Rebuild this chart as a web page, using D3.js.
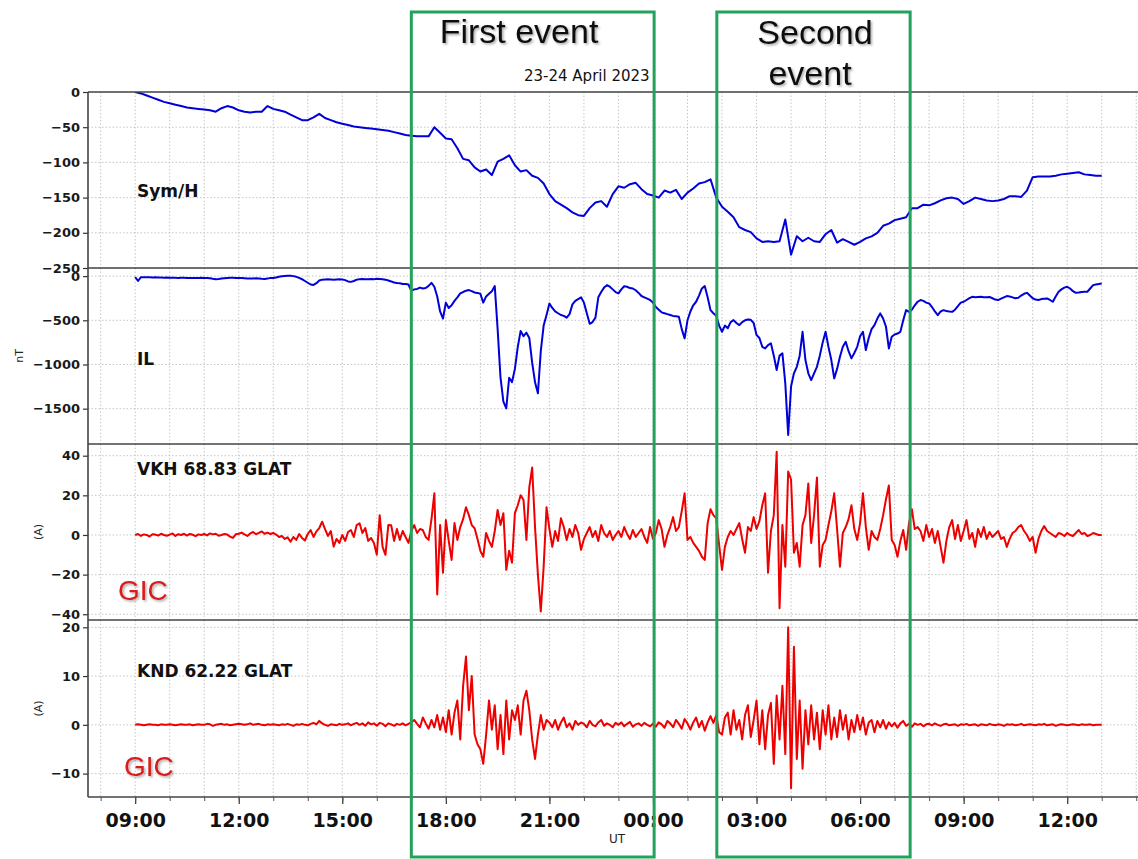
<!DOCTYPE html>
<html>
<head>
<meta charset="utf-8">
<script src="https://cdn.jsdelivr.net/npm/d3@7"></script>
<style>
  body { margin: 0; background: #fff; }
  svg { display: block; }
</style>
</head>
<body>
<div id="chart"></div>
<script>
// Sym/H, 10 min samples from 23 Apr 09:00 UT (nT)
var symh = [
  0, -2, -5, -8, -11, -14,
  -16, -18, -20, -22, -23, -24,
  -25, -26, -28, -23, -20, -22,
  -26, -28, -29, -28, -28, -20,
  -24, -26, -28, -32, -36, -40,
  -40, -36, -31, -37, -40, -43,
  -45, -47, -49, -50, -51, -52,
  -53, -54, -55, -57, -59, -61,
  -62, -63, -63, -63, -50, -58,
  -66, -67, -80, -95, -97, -107,
  -113, -110, -118, -99, -95, -90,
  -104, -113, -111, -119, -122, -130,
  -145, -155, -160, -165, -171, -175,
  -176, -165, -157, -155, -163, -145,
  -134, -136, -131, -129, -138, -145,
  -147, -150, -140, -143, -139, -152,
  -143, -137, -130, -128, -124, -150,
  -163, -170, -178, -192, -196, -199,
  -208, -213, -212, -213, -212, -181,
  -231, -205, -212, -207, -212, -213,
  -202, -196, -214, -209, -213, -217,
  -213, -208, -205, -200, -190, -187,
  -182, -180, -178, -165, -165, -160,
  -161, -158, -154, -151, -150, -152,
  -159, -155, -150, -152, -154, -155,
  -154, -152, -148, -148, -149, -140,
  -121, -120, -120, -120, -119, -117,
  -116, -115, -114, -117, -118, -119,
  -119
];
var symhStep = 10; // minutes

// IL index, 5 min samples (nT)
var il = [
  -10, -55, -12, -12, -14, -13, -15, -14, -16, -15, -17, -16,
  -18, -17, -19, -20, -18, -19, -21, -20, -22, -20, -21, -19,
  -20, -22, -25, -30, -34, -32, -28, -24, -20, -18, -19, -21,
  -20, -22, -24, -26, -28, -26, -25, -27, -30, -32, -28, -20,
  -22, -15, -8, -2, 2, 5, 4, 0, -8, -20, -35, -55,
  -75, -95, -100, -80, -50, -40, -38, -36, -38, -40, -37, -36,
  -38, -45, -60, -65, -55, -40, -34, -33, -35, -34, -33, -35,
  -30, -32, -35, -40, -50, -60, -72, -78, -80, -88, -90, -95,
  -166, -150, -145, -130, -140, -135, -110, -76, -120, -230, -400, -480,
  -300, -360, -330, -280, -240, -196, -180, -165, -158, -170, -185, -190,
  -200, -300, -230, -200, -170, -113, -600, -1150, -1420, -1497, -1150, -1200,
  -1050, -800, -620, -680, -640, -700, -980, -1200, -1327, -850, -560, -440,
  -309, -360, -400, -420, -440, -450, -470, -430, -320, -280, -260, -240,
  -300, -420, -540, -520, -470, -240, -180, -130, -102, -120, -150, -180,
  -196, -150, -115, -120, -135, -140, -160, -190, -225, -240, -255, -270,
  -300, -350, -380, -410, -420, -430, -440, -450, -455, -460, -600, -705,
  -500, -400, -330, -290, -220, -140, -113, -240, -385, -420, -450, -560,
  -630, -560, -590, -520, -498, -530, -554, -520, -500, -490, -495, -530,
  -667, -700, -800, -818, -780, -761, -900, -1063, -900, -874, -1214, -1798,
  -1250, -1100, -1026, -900, -630, -950, -1100, -1176, -1100, -1026, -900, -750,
  -630, -800, -950, -1157, -1050, -912, -800, -743, -850, -931, -870, -800,
  -680, -630, -837, -700, -600, -554, -480, -422, -480, -573, -818, -686,
  -660, -650, -630, -500, -385, -404, -380, -330, -290, -271, -280, -300,
  -309, -350, -400, -441, -400, -385, -395, -400, -404, -380, -340, -300,
  -290, -270, -250, -234, -240, -236, -234, -240, -238, -235, -250, -265,
  -271, -255, -240, -226, -230, -240, -250, -245, -220, -200, -189, -220,
  -250, -265, -271, -260, -255, -252, -270, -290, -230, -177, -150, -130,
  -121, -140, -170, -189, -185, -180, -178, -177, -140, -102, -95, -88,
  -83
];
var ilStep = 5;

// GIC at VKH (68.83 GLAT), 5 min samples (A)
var vkh = [
  0, 0.5, -0.5, 0.3, 0, -0.8, 0.4, 0.2, -0.3, 0.6, 0, -0.4,
  0.2, 0.8, -0.5, 0.4, 0, 0.6, -0.3, 0.5, 0.1, -0.6, 0.3, 0,
  0.5, -0.2, 0.8, 0.3, 0.6, -0.4, 0, 0.5, 0.2, -0.8, -1.5, 0.4,
  0.6, 1.2, 0.3, -0.5, 0.8, 1.5, 0.4, 1.0, 1.8, 0.6, 1.2, 0.5,
  1.0, 0.2, -1.0, -0.5, -2.0, -1.2, -3.4, -1.0, -2.5, 0.5, -1.5, -2.8,
  0.5, 2.5, -1.0, 1.8, 3.5, 6.7, 3.0, -0.5, 2.0, -5.9, -2.0, -4.0,
  0.0, -3.0, 1.5, 2.5, -1.0, 5.0, 5.9, 1.0, 3.5, -3.0, -1.5, -4.0,
  -10, 10, -6, -10, 5, 4.9, -3, 3, -2.5, 2, -1, -4,
  2, 5, 1, 3, 2.5, -1, -2.5, 8, 21, -30, 5, -19,
  7.5, -3, -12.6, 6, -2.5, 4, 8, 14, 10, 5, 3.4, -2,
  -8, -11, 1, -3, -6, 2, 12.6, 5, 11, -17.6, -8, -14,
  11, 15, 20, 17.6, -2.5, 24, 34, 4, -20, -38.6, -16, 14,
  3, -6, 2, -3, 8.4, 4, -2.5, 3, -1, 5, 1, -7.5,
  -2, 1, 4, -1, 2, -3, 5, 1, -1, 2, -2.5, 0,
  2, -1, 4, 0.5, -2, 2.5, -1, 1, 3, -1, -4, 4,
  -2, 1, 7.5, 3, -6, 0, 4, 9, 2, 4, 12, 21,
  -2.5, -1, -4, -6, -8, -11, -12.6, 6, 13, 10, 8.4, -5,
  -17.6, -6, -1, 2, 0, 3, 6, -2, -9, 4, 2, 9,
  3, 7, 15, 21, -19, 2, 10, 42, -37, 5, -16, 32,
  28, -9, -4, -16, 5, 10, 26, -4, 10, 29, -16, -5,
  -2.5, 5, 12, 21, 3, -16, 1, 4, 8, 15, 3, -2.5,
  6, 21, 4, -7.5, 2, -1, -2.5, 3, 10, 18, 25, -2.5,
  -5, -11, -3, 2.5, -7.5, 6, 13, 3, 4, 2, -3, 5,
  -1, 3, -4, 2, -6, -14, -3, 4, 7.5, -2, 5, -3,
  2, 7.5, -2, 1, -6, 3, -1, 4, -2, 1.5, -1, 0.5,
  2, -2, -1, -6, -2, 1, 2, 4, 5, 2, 0, -3,
  -1, -9, -2, 2, 4.5, 2, 1, 0, -1, 1, 0.5, -0.5,
  1, 0, -0.5, 1, 2.5, 0.5, 1, -0.5, 0, 1, 0.5, 0,
  0
];
var vkhStep = 5;

// GIC at KND (62.22 GLAT), 5 min samples (A)
var knd = [
  0, 0.1, 0, -0.1, 0, 0.1, 0, 0, -0.1, 0.1, 0, 0,
  0.1, 0, -0.1, 0, 0.1, 0, 0, 0.1, -0.1, 0, 0.1, 0,
  0, 0.2, 0.1, -0.2, 0, 0.1, 0.2, 0, 0.1, -0.1, 0, 0.1,
  0.2, 0.1, 0, 0.1, 0.3, 0, 0.1, 0.2, 0, -0.1, 0.1, 0,
  0.1, 0, -0.1, 0.1, 0, 0.2, 0, -0.2, 0.1, 0, 0.2, 0,
  -0.1, 0.2, 0.4, 0.1, 0.8, 0.3, 0, -0.2, 0.1, 0, -0.1, 0.2,
  0, 0.1, 0.3, -0.1, 0.2, 0.4, 0, 0.3, -0.2, 0.5, 0.1, 0.3,
  -0.2, 0.4, 0.2, -0.3, 0.3, 0.1, -0.2, 0.2, 0, 0.3, -0.1, 0.2,
  0.5, 1.0, 0.2, -0.5, 1.5, 0.3, -0.8, 1.0, -0.5, 2.0, -1.0, 1.5,
  -1.5, 3, -2, 2.5, 5, -3, 8, 14, 3, 10, -2, -4,
  -5, -8, -2, 5, -1, 4, -5, 2, -6, 5, -3, 3,
  1, 4, -2, 5, 7, 3, -3, -7, -2, 2, -1, 1,
  0.5, -0.5, 1, -1, 0.5, 1.5, -0.5, 0.3, -1, 0.8, 0, 0.5,
  0.2, -0.5, 0.8, 0, -0.3, 0.5, 1.0, -0.2, 0.3, 0, -0.5, 0.4,
  0, 0.5, -0.3, 0.2, 0.6, -0.4, 0.1, 0.3, -0.2, 0.4, 0, -0.3,
  0.2, -0.4, 0.5, 0.1, -0.6, 0.8, 0.3, -0.5, 1.0, 0.2, -0.8, 1.2,
  0.3, -1.0, 0.5, 1.5, -0.5, 0.8, -1.2, 0.5, 1.8, 0.4, 2.0, -1.5,
  -2, 1.5, 2.5, -2, 3, -1, 1, -3, 2, 4, -2.5, 1,
  5, -4, 3, -5, 2, 4.5, -8, 6, -3, 8, -6, 20,
  -13, 16, -7, 5, -9, 3, -4, 4, -3, 2.5, -5, 3,
  -2, 4, -3, 1.5, -2.5, 3, -1, 2, -3, 1, -1.5, 2,
  -1, 1.5, -2, 0.5, 1, -1.5, 0.8, -0.5, 1, -0.8, 0.5, -0.3,
  0.4, -0.6, 0.3, 0.8, -0.2, 0.2, -0.4, 0.3, 0, 0.2, -0.3, 0.1,
  0.2, -0.1, 0.3, 0, -0.2, 0.1, 0.2, -0.1, 0, 0.1, -0.2, 0.1,
  0, 0.2, -0.1, 0, 0.1, -0.2, 0.1, 0, -0.1, 0.2, 0, -0.1,
  0.1, 0, -0.2, 0.1, 0, 0.1, -0.1, 0, 0.2, -0.1, 0, 0.1,
  0, -0.1, 0.1, 0, 0.2, -0.1, 0, 0.1, -0.2, 0, 0.1, 0,
  -0.1, 0, 0.1, 0, -0.1, 0.1, 0, 0, 0.1, -0.1, 0, 0,
  0
];
var kndStep = 5;

var symhTicks = [0, -50, -100, -150, -200, -250];
var ilTicks = [0, -500, -1000, -1500];
var vkhTicks = [40, 20, 0, -20, -40];
var kndTicks = [20, 10, 0, -10];

var startTime = new Date(Date.UTC(2023, 3, 23, 9, 0));
var xStart = new Date(Date.UTC(2023, 3, 23, 7, 38));
var xEnd = new Date(Date.UTC(2023, 3, 24, 14, 10));
var firstEvent = [new Date(Date.UTC(2023, 3, 23, 17, 0)), new Date(Date.UTC(2023, 3, 24, 0, 2))];
var secondEvent = [new Date(Date.UTC(2023, 3, 24, 1, 51)), new Date(Date.UTC(2023, 3, 24, 7, 27))];

var W = 1138, H = 859;
var left = 88, right = 1142;

var svg = d3.select("#chart").append("svg").attr("width", W).attr("height", H);

var defs = svg.append("defs");
defs.append("filter").attr("id", "shadow").attr("x", "-10%").attr("y", "-10%").attr("width", "130%").attr("height", "140%")
  .append("feDropShadow").attr("dx", 1.5).attr("dy", 1.5).attr("stdDeviation", 1.2)
  .attr("flood-color", "#000").attr("flood-opacity", 0.35);
defs.append("clipPath").attr("id", "clip").append("rect")
  .attr("x", left).attr("y", 92).attr("width", right - left).attr("height", 705);

var x = d3.scaleUtc().domain([xStart, xEnd]).range([left, right]);

var panels = [
  {data: symh, step: symhStep, domain: [-250, 0], top: 92, bottom: 268, ticks: symhTicks, color: "#0000d8", label: "Sym/H", labelY: 197},
  {data: il, step: ilStep, domain: [-1900, 92], top: 268, bottom: 444, ticks: ilTicks, color: "#0000d8", label: "IL", labelY: 365, unit: "nT", unitX: 19},
  {data: vkh, step: vkhStep, domain: [-42.9, 45.9], top: 444, bottom: 620, ticks: vkhTicks, color: "#ee0000", label: "VKH 68.83 GLAT", labelY: 475, unit: "(A)", unitX: 38, gic: [118, 600]},
  {data: knd, step: kndStep, domain: [-14.8, 21.5], top: 620, bottom: 797, ticks: kndTicks, color: "#ee0000", label: "KND 62.22 GLAT", labelY: 677, unit: "(A)", unitX: 38, gic: [124, 776]}
];

var hours = d3.utcHour.range(xStart, xEnd);

panels.forEach(function(p) {
  var y = d3.scaleLinear().domain(p.domain).range([p.bottom, p.top]);
  var g = svg.append("g");

  // grid
  g.selectAll(".vg").data(hours).enter().append("line")
    .attr("x1", function(d) { return x(d); }).attr("x2", function(d) { return x(d); })
    .attr("y1", p.top).attr("y2", p.bottom)
    .style("stroke", "#b8b8b8").style("stroke-width", 0.8).style("stroke-dasharray", "1.5,2");
  g.selectAll(".hg").data(p.ticks).enter().append("line")
    .attr("x1", left).attr("x2", right)
    .attr("y1", function(d) { return y(d); }).attr("y2", function(d) { return y(d); })
    .style("stroke", "#b8b8b8").style("stroke-width", 0.8).style("stroke-dasharray", "1.5,2");

  // y axis
  var ax = g.append("g").attr("transform", "translate(" + left + ",0)")
    .call(d3.axisLeft(y).tickValues(p.ticks).tickSize(5).tickPadding(3).tickFormat(function(d) { return d3.format("d")(d).replace("-", "\u2212"); }));
  ax.select(".domain").remove();
  ax.selectAll("line").style("stroke", "#333").style("stroke-width", 1.2);
  ax.selectAll("text").style("font-family", "DejaVu Sans").style("font-weight", "bold").style("font-size", "13px").style("fill", "#1a1a1a");

  // line
  var line = d3.line()
    .x(function(d, i) { return x(d3.utcMinute.offset(startTime, i * p.step)); })
    .y(function(d) { return y(d); });
  svg.append("path").datum(p.data).attr("d", line)
    .attr("clip-path", "url(#clip)")
    .style("fill", "none").style("stroke", p.color).style("stroke-width", 2).style("stroke-linejoin", "round");

  // panel labels
  svg.append("text").attr("x", 137).attr("y", p.labelY).text(p.label)
    .style("font-family", "DejaVu Sans").style("font-weight", "bold").style("font-size", "17px").style("fill", "#111");
  if (p.unit) {
    svg.append("text").attr("transform", "translate(" + p.unitX + "," + ((p.top + p.bottom) / 2) + ") rotate(-90)")
      .attr("text-anchor", "middle").attr("dy", "0.35em").text(p.unit)
      .style("font-family", "DejaVu Sans").style("font-size", "11px").style("fill", "#222");
  }
  if (p.gic) {
    svg.append("text").attr("x", p.gic[0]).attr("y", p.gic[1]).text("GIC")
      .attr("filter", "url(#shadow)")
      .style("font-family", "Liberation Sans").style("font-size", "28px").style("fill", "#d81e1e");
  }

  // panel borders
  svg.append("line").attr("x1", left).attr("x2", W).attr("y1", p.top).attr("y2", p.top)
    .style("stroke", "#444").style("stroke-width", 1.6);
});

// left spine and bottom
svg.append("line").attr("x1", left).attr("x2", left).attr("y1", 92).attr("y2", 797)
  .style("stroke", "#444").style("stroke-width", 1.6);
svg.append("line").attr("x1", left).attr("x2", W).attr("y1", 797).attr("y2", 797)
  .style("stroke", "#444").style("stroke-width", 1.6);

// x axis
var xa = svg.append("g").attr("transform", "translate(0,797)")
  .call(d3.axisBottom(x).ticks(d3.utcHour.every(3)).tickSize(7).tickPadding(10).tickFormat(d3.utcFormat("%H:%M")));
xa.select(".domain").remove();
xa.selectAll("line").style("stroke", "#333").style("stroke-width", 1.2);
xa.selectAll("text").style("font-family", "DejaVu Sans").style("font-weight", "bold").style("font-size", "19px").style("fill", "#111");
svg.append("g").attr("transform", "translate(0,797)")
  .call(d3.axisBottom(x).ticks(d3.utcHour.every(1)).tickSize(4).tickFormat(""))
  .call(function(s) { s.select(".domain").remove(); s.selectAll("line").style("stroke", "#555"); });

svg.append("text").attr("x", 617).attr("y", 843).attr("text-anchor", "middle").text("UT")
  .style("font-family", "DejaVu Sans").style("font-size", "12px").style("fill", "#222");
svg.append("text").attr("x", 524).attr("y", 81).text("23-24 April 2023")
  .style("font-family", "DejaVu Sans").style("font-size", "15px").style("fill", "#111");

// event boxes
[firstEvent, secondEvent].forEach(function(ev) {
  svg.append("rect").attr("x", x(ev[0])).attr("y", 12)
    .attr("width", x(ev[1]) - x(ev[0])).attr("height", 845)
    .style("fill", "none").style("stroke", "#22a25a").style("stroke-width", 3);
});

var titleStyle = function(s) {
  s.attr("filter", "url(#shadow)").attr("text-anchor", "middle")
    .style("font-family", "Liberation Sans").style("font-size", "34px").style("fill", "#111");
};
svg.append("text").attr("x", 519).attr("y", 43).text("First event").call(titleStyle);
svg.append("text").attr("x", 815).attr("y", 44).text("Second").call(titleStyle);
svg.append("text").attr("x", 810).attr("y", 85).text("event").call(titleStyle);
</script>
</body>
</html>
